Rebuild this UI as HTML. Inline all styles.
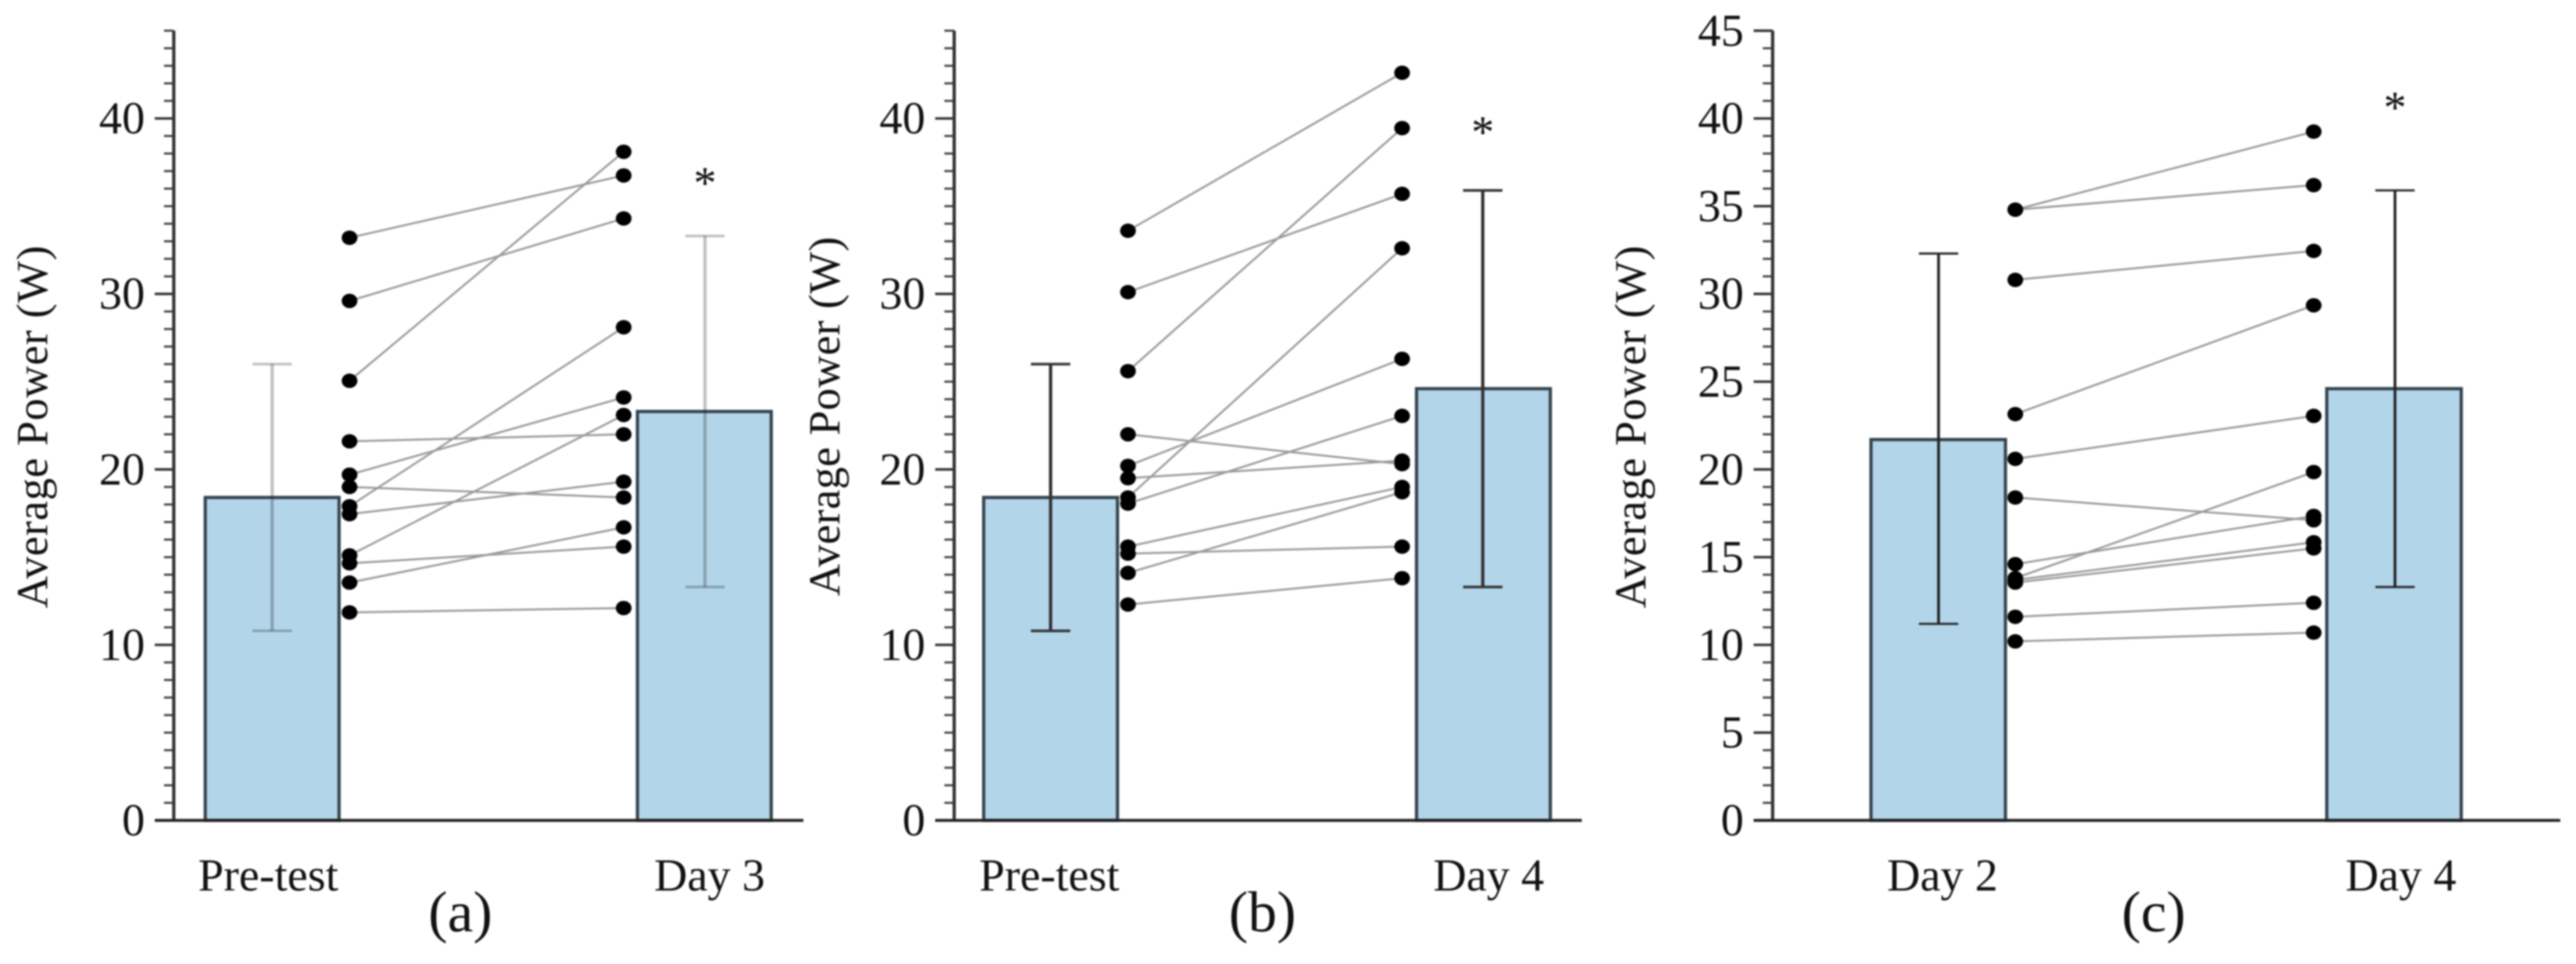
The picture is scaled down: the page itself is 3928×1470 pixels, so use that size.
<!DOCTYPE html>
<html lang="en">
<head>
<meta charset="utf-8">
<title>Average Power panels</title>
<style>
html,body{margin:0;padding:0;background:#fff;}
body{width:3928px;height:1470px;overflow:hidden;}
svg{display:block;filter:blur(1.3px);}
text{font-family:"Liberation Serif",serif;fill:#111;}
</style>
</head>
<body>
<svg id="chart" xmlns="http://www.w3.org/2000/svg" width="3928" height="1470" viewBox="0 0 3928 1470"></svg>
<script>
// Panel (a)
const aCategories = ['Pre-test', 'Day 3'];
const aMeans = [18.4, 23.3];
const aErrTop = [26.0, 33.3];
const aErrBottom = [10.8, 13.3];
const aPre = [33.2, 29.6, 25.05, 21.6, 19.7, 19.0, 17.9, 17.45, 15.1, 14.65, 13.55, 11.85];
const aPost = [36.75, 34.3, 38.1, 22.0, 24.1, 18.4, 28.1, 19.3, 23.1, 15.6, 16.7, 12.1];
const aStar = 36.7;
const aTicks = [0, 10, 20, 30, 40];

// Panel (b)
const bCategories = ['Pre-test', 'Day 4'];
const bMeans = [18.4, 24.6];
const bErrTop = [26.0, 35.9];
const bErrBottom = [10.8, 13.3];
const bPre = [33.6, 30.1, 25.6, 22.0, 20.2, 19.5, 18.4, 18.05, 15.6, 15.2, 14.1, 12.3];
const bPost = [42.6, 35.7, 39.45, 20.3, 26.3, 20.5, 32.6, 23.05, 19.0, 15.6, 18.7, 13.8];
const bStar = 39.6;
const bTicks = [0, 10, 20, 30, 40];

// Panel (c)
const cCategories = ['Day 2', 'Day 4'];
const cMeans = [21.7, 24.6];
const cErrTop = [32.3, 35.9];
const cErrBottom = [11.2, 13.3];
const cPre = [34.8, 34.8, 30.8, 23.15, 20.6, 18.4, 14.6, 13.8, 13.7, 13.55, 11.6, 10.2];
const cPost = [39.25, 36.2, 32.45, 29.35, 23.05, 17.1, 17.35, 19.85, 15.85, 15.5, 12.4, 10.7];
const cStar = 41.0;
const cTicks = [0, 5, 10, 15, 20, 25, 30, 35, 40, 45];

const NS = 'http://www.w3.org/2000/svg';
const svg = document.getElementById('chart');
const Y0 = 1251, PX_PER_UNIT = 26.76, YMAX = 45;
function yScale(v){ return Y0 - v * PX_PER_UNIT; }

function make(tag, parent, attrs, txt){
  const el = document.createElementNS(NS, tag);
  for (const k in attrs) el.setAttribute(k, attrs[k]);
  if (txt !== undefined) el.textContent = txt;
  parent.appendChild(el);
  return el;
}

function drawPanel(p){
  const g = make('g', svg, {});
  
  

  // y axis minor ticks
  for (let v = 0; v <= YMAX; v++){
    const minor = make('line', g, {x1:p.axisX-15, x2:p.axisX, y1:yScale(v), y2:yScale(v), stroke:'#444', 'stroke-width':3.2});
    
    
  }
  // y axis major ticks and labels
  p.ticks.forEach(function(t){
    const major = make('line', g, {x1:p.axisX-29, x2:p.axisX, y1:yScale(t), y2:yScale(t), stroke:'#333', 'stroke-width':3.8});
    
    
    const lab = make('text', g, {x:p.axisX-44, y:yScale(t)+23, 'text-anchor':'end', 'font-size':70}, String(t));
    
    
  });

  // bars
  p.means.forEach(function(m, i){
    const bar = make('rect', g, {x:p.barL[i], y:yScale(m), width:p.barW, height:Y0-yScale(m), fill:'#b3d5ea', stroke:'#37454f', 'stroke-width':5});
    
    
  });

  // axes
  const yAxis = make('line', g, {x1:p.axisX, x2:p.axisX, y1:yScale(YMAX), y2:Y0, stroke:'#333', 'stroke-width':5});
  
  
  const xAxis = make('line', g, {x1:p.axisX-29, x2:p.xEnd, y1:Y0, y2:Y0, stroke:'#222', 'stroke-width':4.5});
  
  

  // error bars
  p.means.forEach(function(m, i){
    const cx = p.errX[i];
    const eb = make('g', g, {stroke:p.errColor, 'stroke-width':p.errW, fill:'none'});
    
    
    make('line', eb, {x1:cx, x2:cx, y1:yScale(p.errTop[i]), y2:yScale(p.errBottom[i])});
    make('line', eb, {x1:cx-30, x2:cx+30, y1:yScale(p.errTop[i]), y2:yScale(p.errTop[i]), 'stroke-width':p.errW-1});
    make('line', eb, {x1:cx-30, x2:cx+30, y1:yScale(p.errBottom[i]), y2:yScale(p.errBottom[i]), 'stroke-width':p.errW-1});
  });

  // paired lines
  p.pre.forEach(function(v, i){
    const ln = make('line', g, {x1:p.dotX[0], x2:p.dotX[1], y1:yScale(v), y2:yScale(p.post[i]), stroke:'#9a9a9a', 'stroke-width':3});
    
    
  });
  // dots
  p.pre.forEach(function(v, i){
    const d1 = make('ellipse', g, {cx:p.dotX[0], cy:yScale(v), rx:12, ry:11, fill:'#000'});
    
    
    const d2 = make('ellipse', g, {cx:p.dotX[1], cy:yScale(p.post[i]), rx:12, ry:11, fill:'#000'});
    
    
  });

  // significance star
  const star = make('text', g, {x:p.errX[1], y:yScale(p.star)+33, 'text-anchor':'middle', 'font-size':70}, '*');
  
  

  // category labels
  p.cats.forEach(function(c, i){
    const lab = make('text', g, {x:p.catX[i], y:1358, 'text-anchor':'middle', 'font-size':70}, c);
    
    
  });

  // y title
  const title = make('text', g, {transform:'translate(' + p.titleX + ',' + p.titleY + ') rotate(-90)', 'text-anchor':'middle', 'font-size':68, textLength:p.titleLen, lengthAdjust:'spacing'}, 'Average Power (W)');
  
  

  // panel letter
  const letter = make('text', g, {x:p.letterX, y:1420, 'text-anchor':'middle', 'font-size':88}, '(' + p.id + ')');
  
  
}

drawPanel({id:'a', cats:aCategories, means:aMeans, errTop:aErrTop, errBottom:aErrBottom, pre:aPre, post:aPost, star:aStar, ticks:aTicks,
  axisX:265, xEnd:1225, barL:[313,972], barW:204, errX:[415,1075], dotX:[533,951], catX:[409,1082],
  errColor:'rgba(30,30,30,.28)', errW:5, titleX:72, titleY:651, titleLen:553, letterX:702});
drawPanel({id:'b', cats:bCategories, means:bMeans, errTop:bErrTop, errBottom:bErrBottom, pre:bPre, post:bPost, star:bStar, ticks:bTicks,
  axisX:1455, xEnd:2412, barL:[1500,2160], barW:204, errX:[1602,2261], dotX:[1720,2138], catX:[1600,2270],
  errColor:'#333', errW:5, titleX:1280, titleY:635, titleLen:548, letterX:1925});
drawPanel({id:'c', cats:cCategories, means:cMeans, errTop:cErrTop, errBottom:cErrBottom, pre:cPre, post:cPost, star:cStar, ticks:cTicks,
  axisX:2703, xEnd:3904, barL:[2853,3548], barW:205, errX:[2956,3652], dotX:[3073,3528], catX:[2962,3661],
  errColor:'#222', errW:4.2, titleX:2509, titleY:651, titleLen:553, letterX:3284});
</script>
</body>
</html>
